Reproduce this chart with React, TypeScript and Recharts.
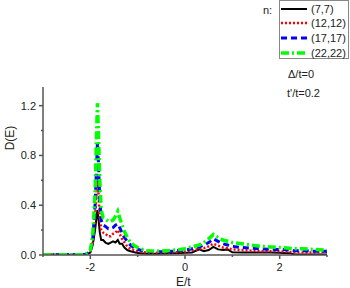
import { LineChart, Line, XAxis, YAxis, Legend } from 'recharts'

// energy grid E/t
const energy = [
  -3.0, -2.5, -2.2, -2.1, -2.05, -2.0, -1.95, -1.9, -1.87, -1.85, -1.83, -1.8, -1.77, -1.73,
  -1.68, -1.62, -1.57, -1.52, -1.47, -1.42, -1.38, -1.33, -1.28, -1.22, -1.15, -1.05, -0.95,
  -0.8, -0.6, -0.4, -0.2, 0, 0.15, 0.3, 0.4, 0.5, 0.6, 0.7, 0.8, 0.9, 1.0, 1.2, 1.4, 1.6,
  1.8, 2.0, 2.2, 2.3, 2.5, 2.7, 3.0,
]

const dos77 = [
  0.002, 0.002, 0.003, 0.005, 0.01, 0.02, 0.08, 0.2, 0.3, 0.36, 0.3, 0.18, 0.12, 0.12,
  0.1, 0.09, 0.1, 0.11, 0.1, 0.12, 0.09, 0.09, 0.06, 0.04, 0.03, 0.02, 0.015,
  0.01, 0.01, 0.012, 0.015, 0.018, 0.02, 0.045, 0.03, 0.04, 0.065, 0.045, 0.04, 0.045, 0.022, 0.02, 0.02, 0.02,
  0.02, 0.018, 0.015, 0.006, 0.005, 0.005, 0.005,
]
const dos1212 = [
  0.002, 0.002, 0.003, 0.005, 0.012, 0.03, 0.1, 0.3, 0.5, 0.6, 0.5, 0.3, 0.2, 0.18,
  0.17, 0.15, 0.15, 0.17, 0.18, 0.2, 0.17, 0.13, 0.1, 0.07, 0.05, 0.035, 0.025,
  0.02, 0.018, 0.02, 0.022, 0.028, 0.035, 0.05, 0.055, 0.07, 0.09, 0.075, 0.06, 0.055, 0.045, 0.04, 0.035, 0.03,
  0.03, 0.03, 0.025, 0.022, 0.02, 0.02, 0.025,
]
const dos1717 = [
  0.002, 0.002, 0.003, 0.005, 0.015, 0.035, 0.12, 0.4, 0.7, 0.9, 0.75, 0.45, 0.28, 0.24,
  0.23, 0.21, 0.21, 0.22, 0.24, 0.25, 0.22, 0.18, 0.14, 0.11, 0.08, 0.05, 0.04,
  0.03, 0.025, 0.028, 0.032, 0.04, 0.05, 0.065, 0.08, 0.1, 0.13, 0.11, 0.09, 0.08, 0.07, 0.06, 0.055, 0.05,
  0.045, 0.045, 0.04, 0.035, 0.035, 0.03, 0.03,
]
const dos2222 = [
  0.002, 0.002, 0.003, 0.005, 0.02, 0.04, 0.15, 0.5, 0.95, 1.22, 1.0, 0.6, 0.36, 0.3,
  0.29, 0.27, 0.27, 0.28, 0.31, 0.35, 0.3, 0.24, 0.19, 0.14, 0.1, 0.07, 0.05,
  0.035, 0.03, 0.035, 0.04, 0.05, 0.065, 0.08, 0.1, 0.13, 0.165, 0.14, 0.12, 0.11, 0.1, 0.09, 0.08, 0.07,
  0.065, 0.06, 0.055, 0.05, 0.05, 0.045, 0.04,
]

const xTicks = [-3, -2, -1, 0, 1, 2, 3]
const yTicks = [0, 0.2, 0.4, 0.6, 0.8, 1.0, 1.2]
const xLabeled = [-2, 0, 2]
const yLabeled = [0, 0.4, 0.8, 1.2]

const series = [
  { key: 'n7', name: '(7,7)', color: '#000000', width: 2, dash: undefined },
  { key: 'n12', name: '(12,12)', color: '#ff0000', width: 2.5, dash: '2 2' },
  { key: 'n17', name: '(17,17)', color: '#0000ff', width: 3, dash: '6 4' },
  { key: 'n22', name: '(22,22)', color: '#00ff00', width: 3.5, dash: '8 3 2 3' },
]

const data = energy.map((e, i) => ({
  e,
  n7: dos77[i],
  n12: dos1212[i],
  n17: dos1717[i],
  n22: dos2222[i],
}))

const FONT = 'Arial, "Liberation Sans", sans-serif'
const AXIS = '#555'

function YTick(props: any) {
  const { x, y, payload } = props
  const major = yLabeled.includes(payload.value)
  return (
    <g>
      <line x1={x - (major ? 4 : 2)} x2={x} y1={y} y2={y} stroke={AXIS} strokeWidth={1.5} />
      {major && (
        <text x={x - 7} y={y + 4} textAnchor="end" fontSize={11} fontFamily={FONT} fill="#222">
          {payload.value.toFixed(1)}
        </text>
      )}
    </g>
  )
}

function XTick(props: any) {
  const { x, y, payload } = props
  const major = xLabeled.includes(payload.value)
  return (
    <g>
      <line x1={x} x2={x} y1={y} y2={y + (major ? 4 : 2)} stroke={AXIS} strokeWidth={1.5} />
      {major && (
        <text x={x} y={y + 16} textAnchor="middle" fontSize={11} fontFamily={FONT} fill="#222">
          {payload.value}
        </text>
      )}
    </g>
  )
}

function LegendBox() {
  return (
    <div style={{ position: 'relative', width: 90, height: 62, fontFamily: FONT, fontSize: 11, color: '#222' }}>
      <span style={{ position: 'absolute', left: 0, top: 4 }}>n:</span>
      <div style={{ position: 'absolute', left: 16, top: 0, width: 70, height: 59, border: '1px solid #888', boxSizing: 'border-box' }}>
        {series.map((s, i) => (
          <div key={s.key} style={{ position: 'absolute', left: 0, top: 1 + i * 14.7, height: 13, display: 'flex', alignItems: 'center' }}>
            <svg width={28} height={6}>
              <line x1={1} x2={27} y1={3} y2={3} stroke={s.color} strokeWidth={s.width} strokeDasharray={s.dash} />
            </svg>
            <span style={{ marginLeft: 3, whiteSpace: 'nowrap' }}>{s.name}</span>
          </div>
        ))}
      </div>
    </div>
  )
}

export default function App() {
  return (
    <div style={{ position: 'absolute', left: 0, top: 0, width: 350, height: 288, background: '#fff', fontFamily: FONT }}>
      <LineChart width={350} height={288} data={data} margin={{ top: 25, right: 23, bottom: 0, left: 0 }}>
        <XAxis
          dataKey="e"
          type="number"
          domain={[-3, 3]}
          ticks={xTicks}
          interval={0}
          tickLine={false}
          tickSize={0}
          tickMargin={0}
          height={33}
          axisLine={{ stroke: AXIS, strokeWidth: 1.5 }}
          tick={<XTick />}
        />
        <YAxis
          type="number"
          domain={[0, 1.35]}
          ticks={yTicks}
          interval={0}
          tickLine={false}
          tickSize={0}
          tickMargin={0}
          width={43}
          axisLine={{ stroke: AXIS, strokeWidth: 1.5 }}
          tick={<YTick />}
          allowDataOverflow
        />
        <Legend
          verticalAlign="top"
          align="right"
          content={() => <LegendBox />}
          wrapperStyle={{ position: 'absolute', left: 263, top: 0, width: 90 }}
        />
        {series.map(s => (
          <Line
            key={s.key}
            type="linear"
            dataKey={s.key}
            name={s.name}
            stroke={s.color}
            strokeWidth={s.width}
            strokeDasharray={s.dash}
            dot={false}
            isAnimationActive={false}
          />
        ))}
      </LineChart>
      <div style={{ position: 'absolute', left: 4, top: 138, transform: 'translate(-50%, -50%) rotate(-90deg)', transformOrigin: 'center', marginLeft: 6, fontSize: 12, color: '#222', whiteSpace: 'nowrap' }}>
        D(E)
      </div>
      <div style={{ position: 'absolute', left: 176, top: 275, fontSize: 12, color: '#222' }}>E/t</div>
      <div style={{ position: 'absolute', left: 288, top: 68, fontSize: 11, color: '#222' }}>Δ/t=0</div>
      <div style={{ position: 'absolute', left: 287, top: 87, fontSize: 11, color: '#222' }}>t'/t=0.2</div>
    </div>
  )
}
